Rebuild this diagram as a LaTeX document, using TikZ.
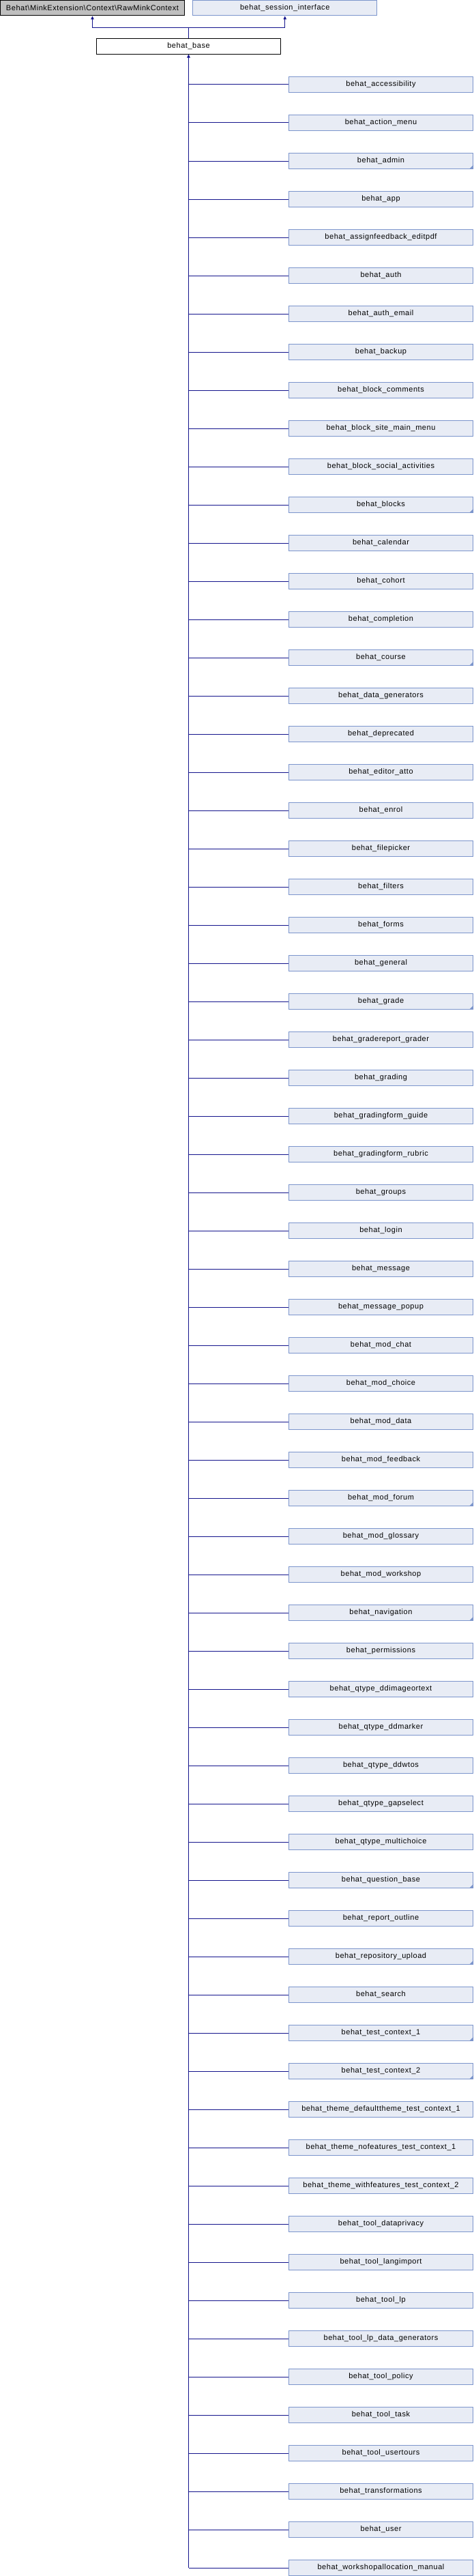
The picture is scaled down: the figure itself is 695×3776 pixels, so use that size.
\documentclass[tikz,border=0pt]{standalone}
\usepackage{fontspec}
\setmainfont{Liberation Sans}[LetterSpace=5]
\usetikzlibrary{arrows.meta, positioning}
\definecolor{boxfill}{RGB}{232,236,245}
\definecolor{boxline}{RGB}{124,149,204}
\definecolor{linkblue}{RGB}{20,20,140}
\definecolor{extgray}{RGB}{191,191,191}

\begin{document}
\begin{tikzpicture}[
        x=1pt, y=-1pt,
        font=\fontsize{11}{13}\selectfont,
        every node/.style={draw, minimum width=270pt, minimum height=22.5pt, inner sep=0pt, line width=1pt},
        classbox/.style={fill=boxfill, draw=boxline},
        link/.style={draw=linkblue, line width=1pt},
        arrow/.style={-{Triangle[length=5pt, width=4.5pt]}, color=linkblue, line width=1pt}
        ]

        \useasboundingbox (0,0) rectangle (695,3776);

        % Parents
        \node[fill=extgray] (RawMink) at (135.5, 11.75) {Behat\textbackslash MinkExtension\textbackslash Context\textbackslash RawMinkContext};
        \node[classbox] (session) at (417.75, 11.75) {behat\_session\_interface};
        \node[fill=white] (base) at (276.5, 67.8) {behat\_base};
        \coordinate (join) at (276.5, 40.7);

        \draw[link] (base.north) -- (join);
        \draw[arrow] (join) -| (RawMink.south);
        \draw[arrow] (join) -| (session.south);

        % Derived contexts
        \foreach \name [count=\i] in {accessibility, action\_menu, admin, app, assignfeedback\_editpdf,
                auth, auth\_email, backup, block\_comments, block\_site\_main\_menu, block\_social\_activities,
                blocks, calendar, cohort, completion, course, data\_generators, deprecated, editor\_atto,
                enrol, filepicker, filters, forms, general, grade, gradereport\_grader, grading,
                gradingform\_guide, gradingform\_rubric, groups, login, message, message\_popup,
                mod\_chat, mod\_choice, mod\_data, mod\_feedback, mod\_forum, mod\_glossary,
                mod\_workshop, navigation, permissions, qtype\_ddimageortext, qtype\_ddmarker,
                qtype\_ddwtos, qtype\_gapselect, qtype\_multichoice, question\_base, report\_outline,
                repository\_upload, search, test\_context\_1, test\_context\_2,
                theme\_defaulttheme\_test\_context\_1, theme\_nofeatures\_test\_context\_1,
                theme\_withfeatures\_test\_context\_2, tool\_dataprivacy, tool\_langimport, tool\_lp,
                tool\_lp\_data\_generators, tool\_policy, tool\_task, tool\_usertours, transformations,
                user, workshopallocation\_manual} {
                \node[classbox] (child-\i) at (558.5, {124+56*(\i-1)}) {behat\_\name};
                \draw[link] (child-\i.west) -- (base.south |- child-\i.west);
            }
        \draw[arrow] (base.south |- child-66.west) -- (base.south);

        % Marks for classes with further subclasses
        \foreach \i in {3,12,16,25,38,41,48,50,52,53}
            \fill[boxline] (child-\i.south east) -- ++(-6,0) -- ++(6,-6) -- cycle;

    \end{tikzpicture}
\end{document}
